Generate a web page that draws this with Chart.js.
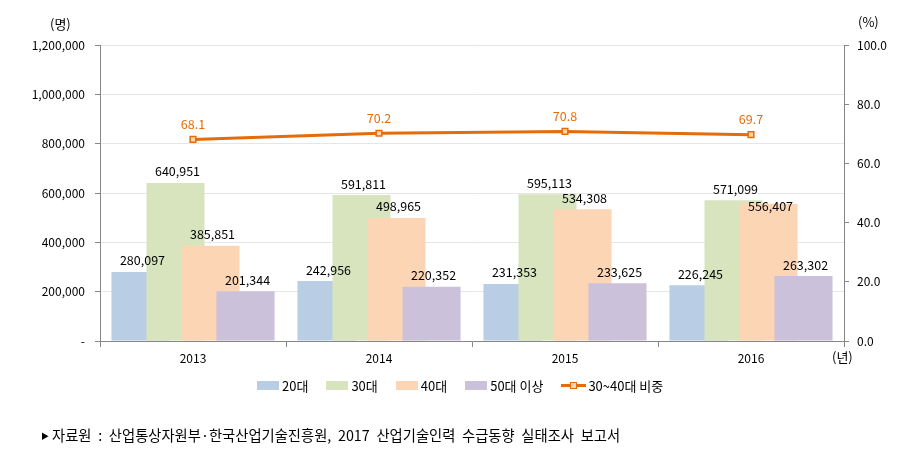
<!DOCTYPE html>
<html>
<head>
<meta charset="utf-8">
<script src="https://cdn.jsdelivr.net/npm/chart.js@4"></script>
<style>
  body { margin: 0; background: #fff; font-family: "Noto Sans CJK KR", sans-serif; }
  #wrap { position: relative; width: 912px; height: 463px; }
  canvas { position: absolute; left: 0; top: 0; }
  .note { position: absolute; font-size: 13px; color: #000; white-space: nowrap; }
  #legend { position: absolute; left: 257px; top: 376px; display: flex; align-items: center; font-size: 13px; }
  #legend .item { display: flex; align-items: center; margin-right: 18px; }
  #legend .box { width: 22px; height: 9px; margin-right: 3px; }
  #legend .lineIcon { position: relative; width: 25px; height: 9px; margin-right: 2px; }
  #legend .lineIcon i { position: absolute; left: 0; top: 3px; width: 25px; height: 3px; }
  #legend .lineIcon b { position: absolute; left: 9px; top: 1px; width: 5px; height: 5px; border: 1.5px solid; }
  #source { left: 41px; top: 424px; font-size: 14.3px; word-spacing: 3.5px; }
  #source .tri { font-size: 8px; vertical-align: 2px; margin-right: 3px; }
</style>
</head>
<body>
<div id="wrap">
  <canvas id="chart" width="912" height="463"></canvas>
  <div class="note" style="left:50px; top:14px;">(명)</div>
  <div class="note" style="left:858px; top:12px;">(%)</div>
  <div class="note" style="left:832px; top:347px;">(년)</div>
  <div id="legend"></div>
  <div class="note" id="source"><span class="tri">▶</span>자료원 : 산업통상자원부·한국산업기술진흥원, 2017 산업기술인력 수급동향 실태조사 보고서</div>
</div>
<script>
// chart values
const years = ['2013', '2014', '2015', '2016'];
const age20 = [280097, 242956, 231353, 226245];
const age30 = [640951, 591811, 595113, 571099];
const age40 = [385851, 498965, 534308, 556407];
const age50 = [201344, 220352, 233625, 263302];
const share3040 = [68.1, 70.2, 70.8, 69.7];
const seriesNames = ['20대', '30대', '40대', '50대 이상', '30~40대 비중'];

const barColors = ['#B9CDE5', '#D7E4BD', '#FCD5B5', '#CCC1DA'];
const lineColor = '#E46C0A';
const axisGray = '#868686';
const fontFamily = '"Noto Sans CJK KR", sans-serif';

// later bar series sit on top of earlier ones (overlapping bars)
const barOrder = {
  id: 'barOrder',
  beforeDatasetsDraw(chart) {
    chart.data.datasets.forEach((ds, i) => {
      const meta = chart.getDatasetMeta(i);
      if (meta.type === 'bar') meta.controller.draw();
    });
  },
  beforeDatasetDraw(chart, args) {
    if (args.meta.type === 'bar') return false;
  }
};

// value labels, bar labels that would collide get pushed below the previous one
const valueLabels = {
  id: 'valueLabels',
  afterDatasetsDraw(chart) {
    const ctx = chart.ctx;
    const h = 14;
    const placed = [];
    ctx.save();
    ctx.font = '12.5px ' + fontFamily;
    ctx.textAlign = 'center';
    ctx.textBaseline = 'bottom';
    chart.data.datasets.forEach((ds, i) => {
      const meta = chart.getDatasetMeta(i);
      meta.data.forEach((el, j) => {
        const v = ds.data[j];
        if (meta.type === 'bar') {
          const txt = v.toLocaleString('en-US');
          const w = ctx.measureText(txt).width;
          const x = el.x + 2;
          let bottom = el.y - 5;
          placed.forEach(p => {
            const overlapX = Math.abs(p.x - x) < (p.w + w) / 2;
            const overlapY = bottom > p.bottom - h && bottom - h < p.bottom;
            if (overlapX && overlapY) bottom = p.bottom + h + 3;
          });
          placed.push({ x: x, w: w, bottom: bottom });
          ctx.fillStyle = '#000';
          ctx.fillText(txt, x, bottom);
        } else {
          ctx.fillStyle = lineColor;
          ctx.fillText(v.toFixed(1), el.x, el.y - 9);
        }
      });
    });
    ctx.restore();
  }
};

const barSeries = [age20, age30, age40, age50];
const datasets = barSeries.map((d, i) => ({
  type: 'bar',
  label: seriesNames[i],
  data: d,
  backgroundColor: barColors[i],
  yAxisID: 'y',
  categoryPercentage: 0.753,
  barPercentage: 1.657
}));
datasets.push({
  type: 'line',
  label: seriesNames[4],
  data: share3040,
  borderColor: lineColor,
  borderWidth: 3,
  pointStyle: 'rect',
  pointRadius: 4,
  pointBorderWidth: 1.5,
  pointBackgroundColor: '#FCD5B5',
  pointBorderColor: lineColor,
  yAxisID: 'y2',
  tension: 0
});

new Chart(document.getElementById('chart'), {
  data: { labels: years, datasets: datasets },
  plugins: [barOrder, valueLabels],
  options: {
    responsive: false,
    animation: false,
    layout: { padding: { top: 45, left: 0, right: 0, bottom: 0 } },
    plugins: { legend: { display: false }, tooltip: { enabled: false } },
    scales: {
      x: {
        offset: true,
        grid: { drawOnChartArea: false, color: axisGray, tickLength: 6 },
        border: { color: axisGray },
        ticks: { color: '#000', font: { family: fontFamily, size: 12 }, padding: 4 },
        afterFit(s) { s.height = 122; }
      },
      y: {
        position: 'left',
        min: 0, max: 1200000,
        ticks: {
          stepSize: 200000,
          color: '#000',
          padding: 10,
          font: { family: fontFamily, size: 12 },
          callback: v => v === 0 ? '-' : v.toLocaleString('en-US')
        },
        grid: { color: '#E6E6E6', tickColor: axisGray, tickLength: 5 },
        border: { color: axisGray },
        afterFit(s) { s.width = 100; }
      },
      y2: {
        position: 'right',
        min: 0, max: 100,
        ticks: {
          stepSize: 20,
          color: '#000',
          padding: 8,
          font: { family: fontFamily, size: 12 },
          callback: v => v.toFixed(1)
        },
        grid: { drawOnChartArea: false, color: axisGray, tickLength: 5 },
        border: { color: axisGray },
        afterFit(s) { s.width = 68; }
      }
    }
  }
});

// legend
const legend = document.getElementById('legend');
seriesNames.forEach((name, i) => {
  const item = document.createElement('div');
  item.className = 'item';
  if (i < 4) {
    item.innerHTML = '<span class="box" style="background:' + barColors[i] + '"></span>' + name;
  } else {
    item.innerHTML = '<span class="lineIcon"><i style="background:' + lineColor + '"></i><b style="border-color:' + lineColor + ';background:#FCD5B5"></b></span>' + name;
  }
  legend.appendChild(item);
});
</script>
</body>
</html>
